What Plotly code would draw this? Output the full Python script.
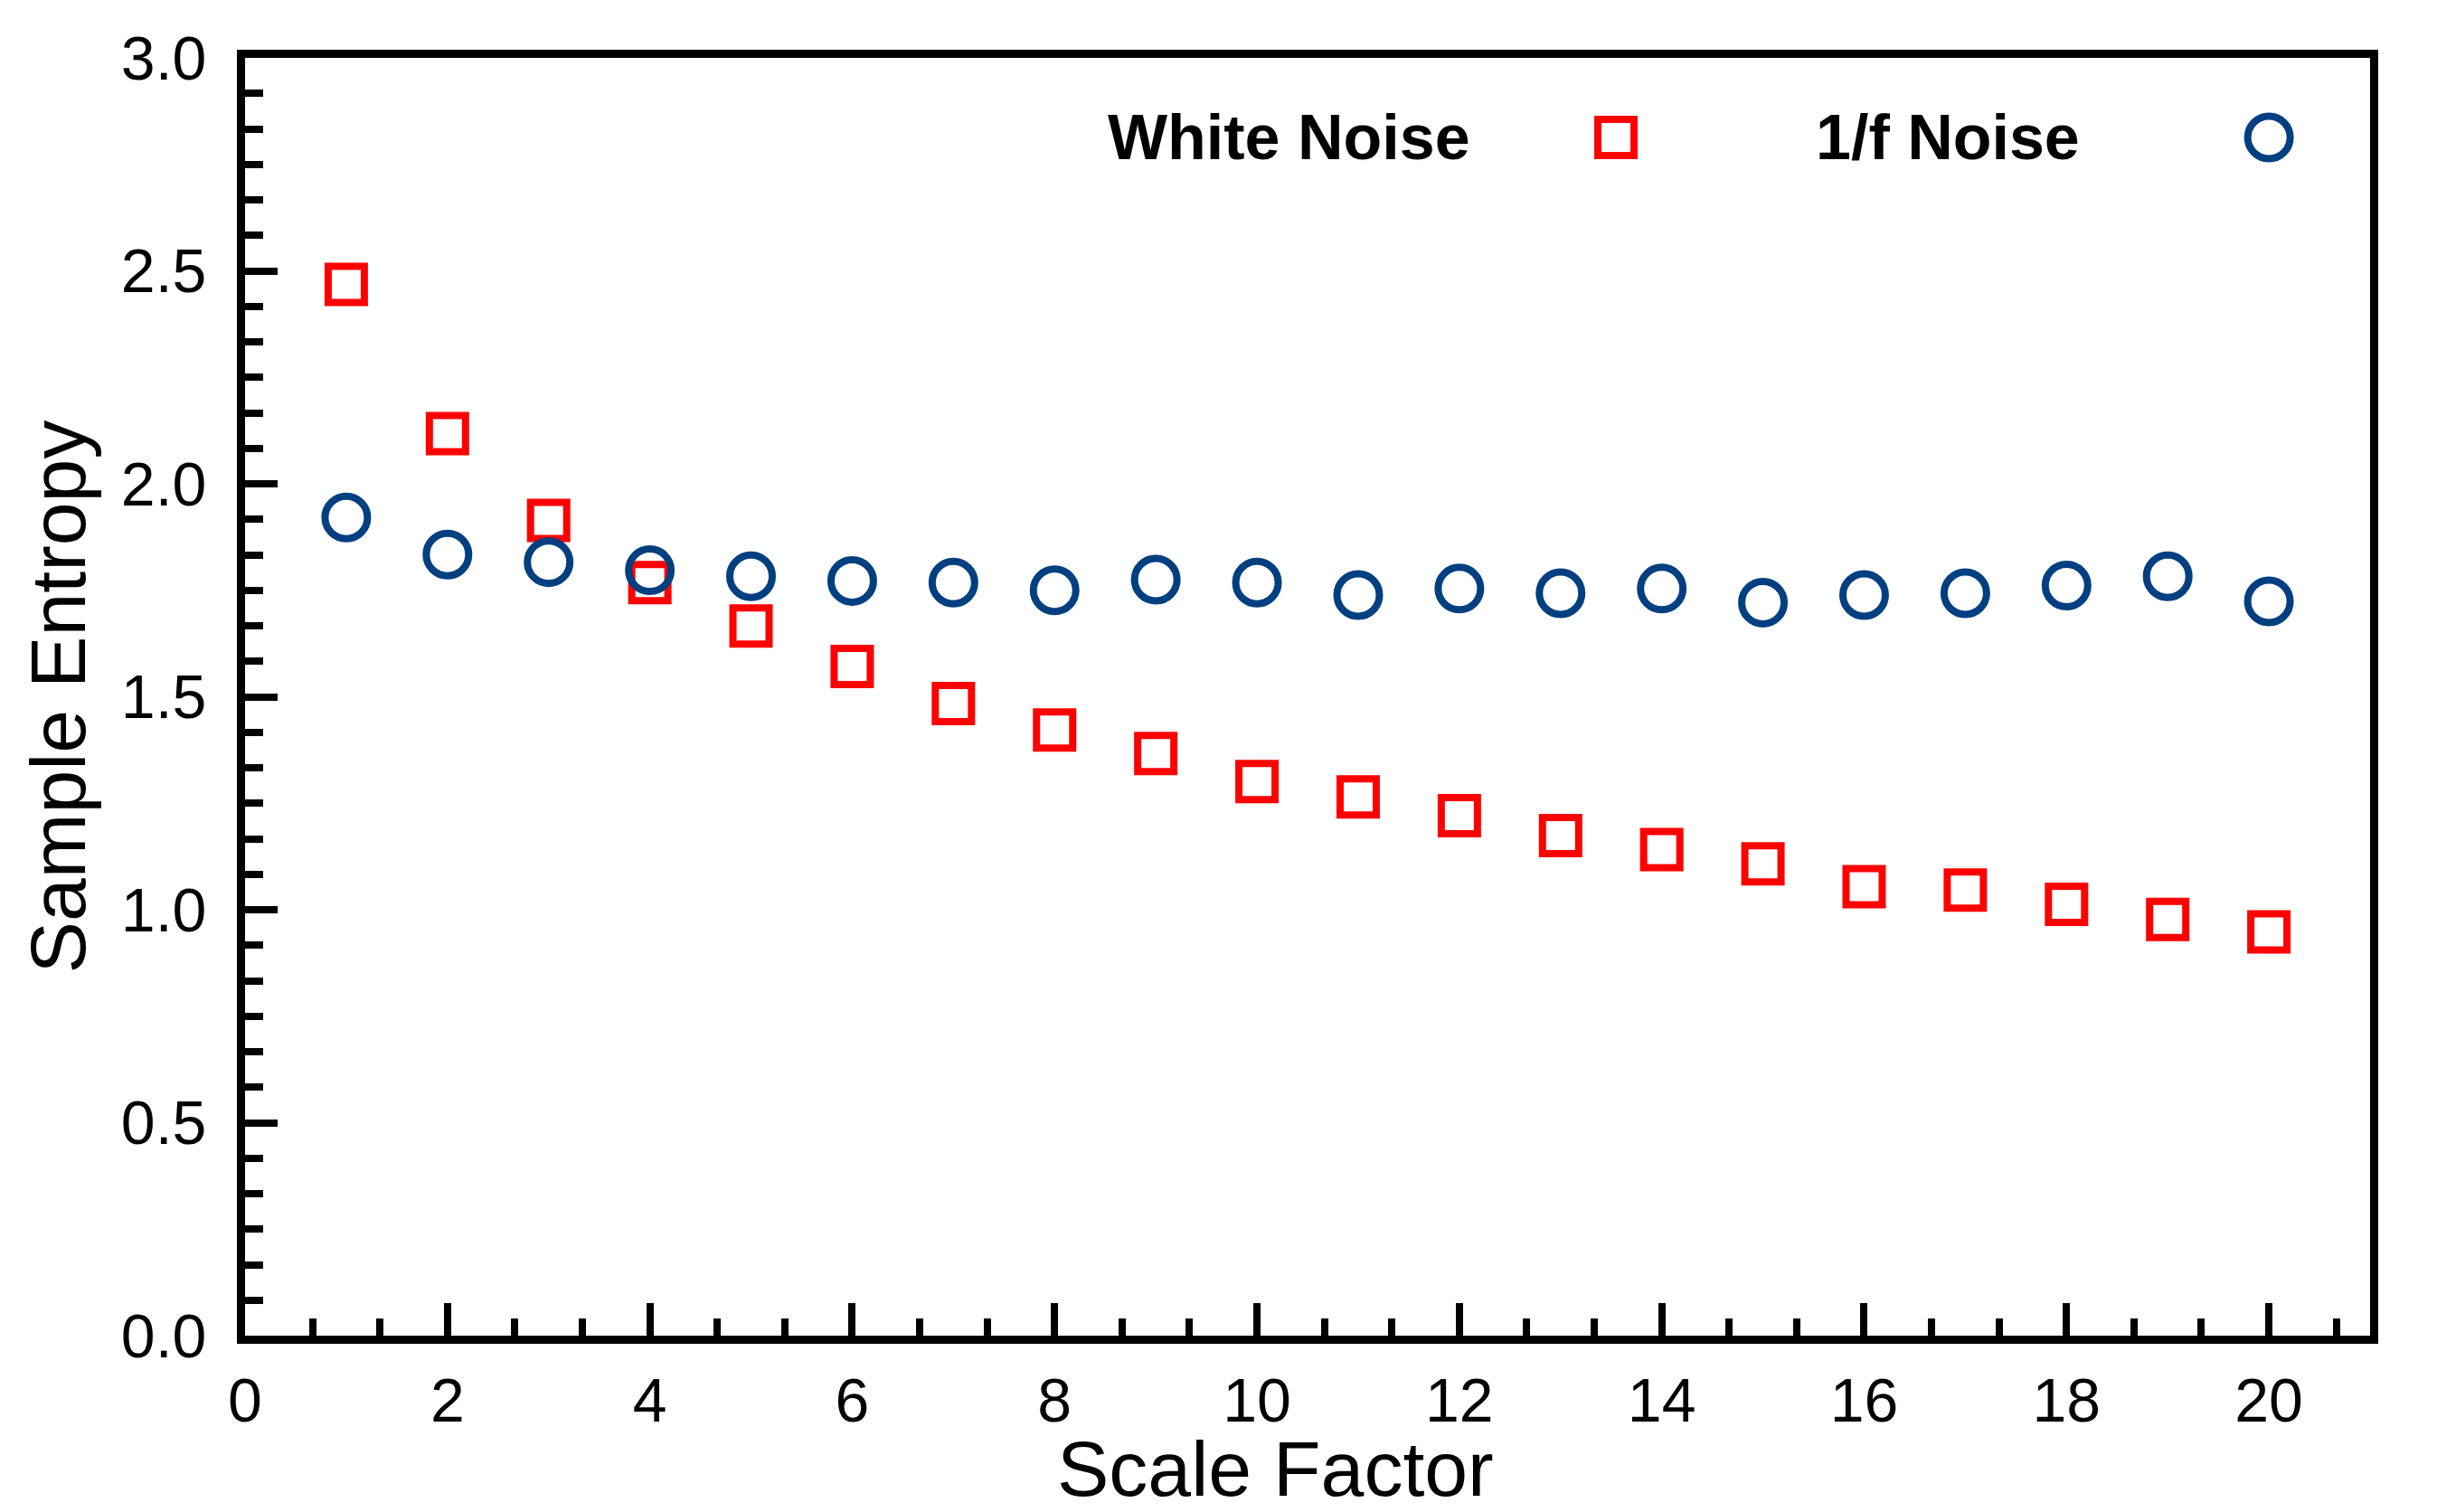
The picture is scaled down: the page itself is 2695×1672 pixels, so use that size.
import plotly.graph_objects as go

scale_factor = list(range(1, 21))
white_noise = [2.468, 2.118, 1.914, 1.768, 1.666, 1.571, 1.484, 1.422, 1.367, 1.301,
               1.265, 1.221, 1.174, 1.141, 1.108, 1.054, 1.046, 1.013, 0.977, 0.948]
pink_noise = [1.921, 1.834, 1.816, 1.797, 1.783, 1.772, 1.768, 1.750, 1.775, 1.768,
              1.739, 1.754, 1.743, 1.754, 1.721, 1.739, 1.743, 1.761, 1.783, 1.724]
series_names = ["White Noise", "1/f Noise"]
x_title = "Scale Factor"
y_title = "Sample Entropy"

RED = "#FF0000"
BLUE = "#003F80"
FONT = "Liberation Sans, Arial, sans-serif"

SQ = dict(symbol="square-open", size=40, color=RED, line=dict(width=8, color=RED))
CI = dict(symbol="circle-open", size=47, color=BLUE, line=dict(width=8, color=BLUE))

fig = go.Figure()
fig.add_trace(go.Scatter(x=scale_factor, y=white_noise, mode="markers",
                         name=series_names[0], marker=SQ, showlegend=False))
fig.add_trace(go.Scatter(x=scale_factor, y=pink_noise, mode="markers",
                         name=series_names[1], marker=CI, showlegend=False))

# legend keys (marker to the right of the label, as in the original)
key_y = 0.9377
fig.add_trace(go.Scatter(x=[0.6451], y=[key_y], xaxis="x2", yaxis="y2", mode="markers",
                         showlegend=False, marker=SQ, hoverinfo="skip"))
fig.add_trace(go.Scatter(x=[0.9524], y=[key_y], xaxis="x2", yaxis="y2", mode="markers",
                         showlegend=False, marker=CI, hoverinfo="skip"))

fig.add_annotation(x=0.5774, y=key_y, xref="paper", yref="paper", xanchor="right",
                   yanchor="middle", text="<b>" + series_names[0] + "</b>", showarrow=False,
                   font=dict(family=FONT, size=70, color="black"))
fig.add_annotation(x=0.7383, y=key_y, xref="paper", yref="paper", xanchor="left",
                   yanchor="middle", text="<b>" + series_names[1] + "</b>", showarrow=False,
                   font=dict(family=FONT, size=70, color="black"))

# x-axis title (slightly left of centre in the original)
fig.add_annotation(x=0.485, y=-0.104, xref="paper", yref="paper", xanchor="center",
                   yanchor="middle", text=x_title, showarrow=False,
                   font=dict(family=FONT, size=86, color="black"))

fig.update_layout(
    width=2695, height=1672,
    margin=dict(l=263, r=82, t=56, b=203),
    paper_bgcolor="white", plot_bgcolor="white",
    font=dict(family=FONT, size=68, color="black"),
    xaxis=dict(
        range=[0, 21], tickmode="linear", tick0=0, dtick=2,
        ticks="inside", ticklen=36, tickwidth=8, tickcolor="black",
        minor=dict(ticks="inside", ticklen=19, tickwidth=8, tickcolor="black",
                   tick0=0, dtick=2/3),
        showline=True, linewidth=9, linecolor="black", mirror=True,
        showgrid=False, zeroline=False,
        tickfont=dict(family=FONT, size=68),
        ticklabelstandoff=4,
    ),
    yaxis=dict(
        range=[0, 3], tickmode="linear", tick0=0, dtick=0.5, tickformat=".1f",
        ticks="inside", ticklen=36, tickwidth=8, tickcolor="black",
        minor=dict(ticks="inside", ticklen=20, tickwidth=8, tickcolor="black",
                   tick0=0, dtick=0.5/6),
        showline=True, linewidth=9, linecolor="black", mirror=True,
        showgrid=False, zeroline=False,
        tickfont=dict(family=FONT, size=68),
        ticklabelstandoff=20,
        title=dict(text=y_title, font=dict(family=FONT, size=86), standoff=14),
    ),
    xaxis2=dict(overlaying="x", range=[0, 1], visible=False, fixedrange=True),
    yaxis2=dict(overlaying="y", range=[0, 1], visible=False, fixedrange=True),
)

fig.write_html("out.html")
